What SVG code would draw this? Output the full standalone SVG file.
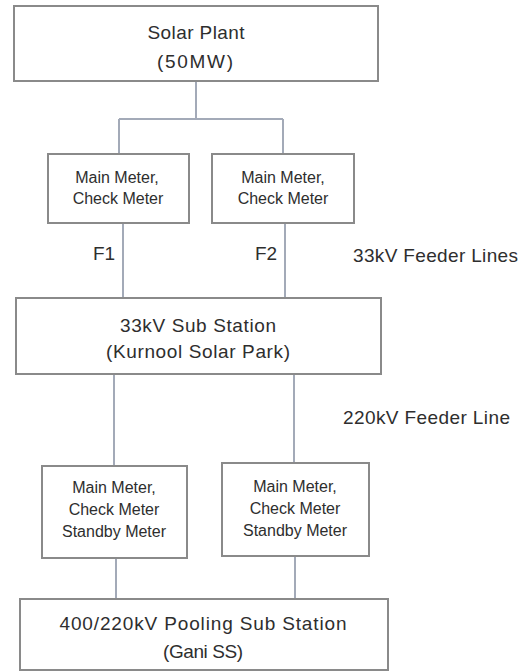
<svg xmlns="http://www.w3.org/2000/svg" width="528" height="671" viewBox="0 0 528 671">
<style>
.box{fill:#fff;stroke:#8a8a8a;stroke-width:2}
.ln{fill:none;stroke:#a3aab8;stroke-width:2}
.t{font-family:"Liberation Sans",Arial,sans-serif;fill:#2e2e2e;text-anchor:middle}
.big{font-size:19px}
.sm{font-size:16px}
.lbl{font-family:"Liberation Sans",Arial,sans-serif;fill:#2e2e2e;font-size:19px}
</style>
<rect width="528" height="671" fill="#fff"/>
<g id="connectors">
<path class="ln" d="M196 81V119M119 119H283M119 119V154M283 119V154"/>
<path class="ln" d="M123 223V298M285 223V298"/>
<path class="ln" d="M114 374V466M294 374V463"/>
<path class="ln" d="M116 558V599M295 556V599"/>
</g>
<g id="solar-plant">
<rect class="box" x="14" y="6" width="364" height="75"/>
<text class="t big" x="196" y="39" textLength="97" lengthAdjust="spacing">Solar Plant</text>
<text class="t big" x="195" y="68" textLength="76" lengthAdjust="spacing">(50MW)</text>
</g>
<g id="meter-1">
<rect class="box" x="48" y="154" width="141" height="69"/>
<text class="t sm" x="117" y="183">Main Meter,</text>
<text class="t sm" x="118" y="204">Check Meter</text>
</g>
<g id="meter-2">
<rect class="box" x="212" y="154" width="142" height="69"/>
<text class="t sm" x="283" y="183">Main Meter,</text>
<text class="t sm" x="283" y="204">Check Meter</text>
</g>
<g id="labels">
<text class="lbl" x="93" y="260">F1</text>
<text class="lbl" x="255" y="260">F2</text>
<text class="lbl" x="353" y="262" textLength="165" lengthAdjust="spacing">33kV Feeder Lines</text>
<text class="lbl" x="343" y="424" textLength="167" lengthAdjust="spacing">220kV Feeder Line</text>
</g>
<g id="sub-station">
<rect class="box" x="16" y="298" width="365" height="76"/>
<text class="t big" x="198" y="332" textLength="156" lengthAdjust="spacing">33kV Sub Station</text>
<text class="t big" x="198" y="358" textLength="184" lengthAdjust="spacing">(Kurnool Solar Park)</text>
</g>
<g id="meter-3">
<rect class="box" x="42" y="466" width="145" height="92"/>
<text class="t sm" x="114" y="493">Main Meter,</text>
<text class="t sm" x="114" y="515">Check Meter</text>
<text class="t sm" x="114" y="537">Standby Meter</text>
</g>
<g id="meter-4">
<rect class="box" x="222" y="463" width="147" height="93"/>
<text class="t sm" x="295" y="492">Main Meter,</text>
<text class="t sm" x="295" y="514">Check Meter</text>
<text class="t sm" x="295" y="536">Standby Meter</text>
</g>
<g id="pooling-sub-station">
<rect class="box" x="20" y="599" width="368" height="71"/>
<text class="t big" x="203" y="630" textLength="287" lengthAdjust="spacing">400/220kV Pooling Sub Station</text>
<text class="t big" x="203" y="658" textLength="80" lengthAdjust="spacing">(Gani SS)</text>
</g>
</svg>
